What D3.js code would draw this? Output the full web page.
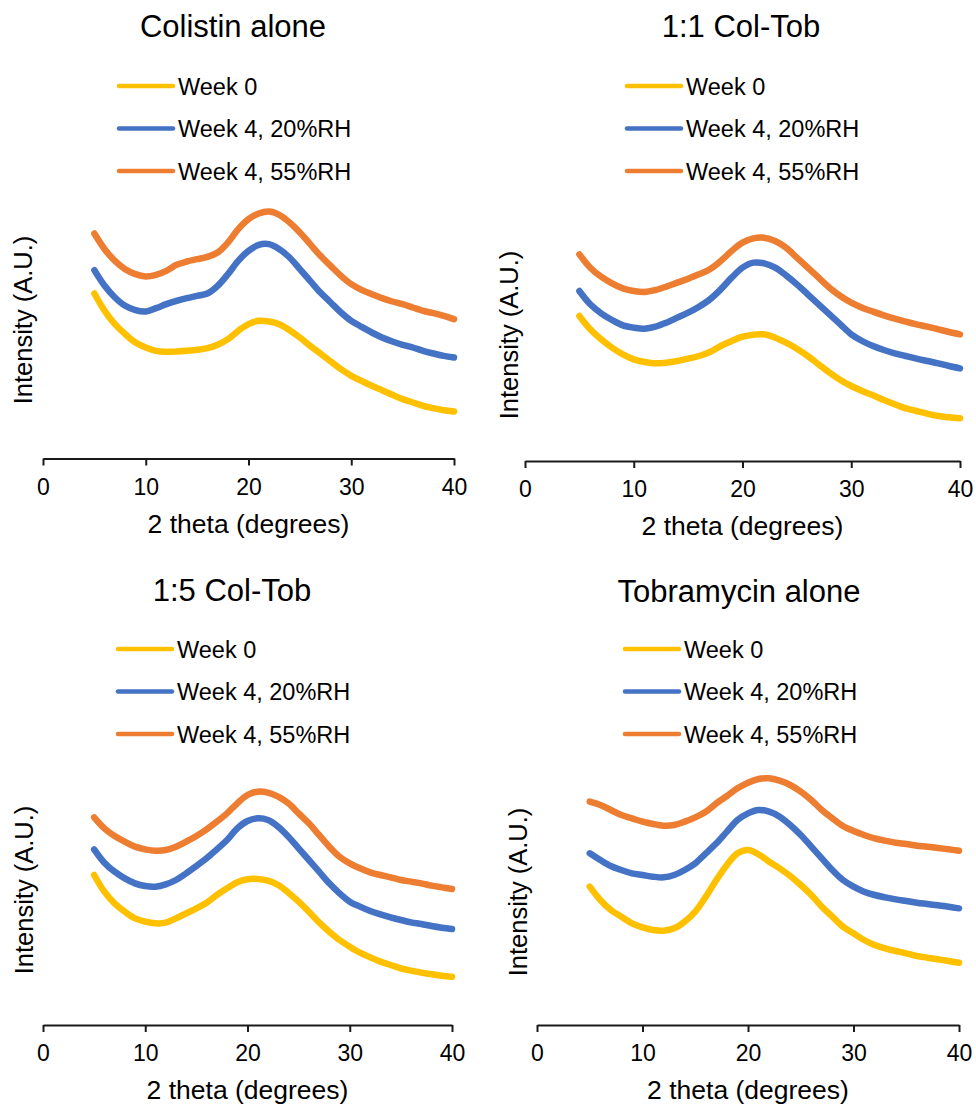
<!DOCTYPE html>
<html>
<head>
<meta charset="utf-8">
<script src="https://cdn.jsdelivr.net/npm/d3@7"></script>
<style>
  body { margin: 0; background: #fff; }
  svg { display: block; font-family: "Liberation Sans", Arial, sans-serif; }
</style>
</head>
<body>
<div id="chart"></div>
<script>
// 2 theta sample positions (degrees)
const twoTheta = [5, 6, 7, 8, 9, 10, 11, 12, 13, 14, 15, 16, 17, 18, 19, 20, 21, 22, 23, 24, 25, 26, 27, 28, 29, 30, 31, 32, 33, 34, 35, 36, 37, 38, 39, 40];
const xTicks = [0, 10, 20, 30, 40];
const seriesNames = ["Week 0", "Week 4, 20%RH", "Week 4, 55%RH"];
const seriesColors = ["#FFC000", "#4472C4", "#ED7D31"];
const panelTitles = ["Colistin alone", "1:1 Col-Tob", "1:5 Col-Tob", "Tobramycin alone"];

// intensity (A.U.)
const colistinWeek0 = [495, 443, 403, 373, 348, 333, 323, 320, 321, 323, 326, 331, 341, 358, 383, 403, 413, 411, 403, 385, 363, 338, 315, 291, 268, 248, 233, 218, 205, 191, 178, 168, 158, 151, 145, 141];
const colistinRH20 = [565, 518, 483, 458, 445, 441, 451, 463, 473, 481, 488, 495, 518, 553, 593, 623, 641, 643, 628, 603, 568, 533, 498, 468, 438, 413, 395, 378, 363, 351, 341, 333, 323, 315, 308, 303];
const colistinRH55 = [675, 628, 593, 568, 553, 546, 551, 563, 581, 591, 598, 605, 618, 648, 688, 718, 735, 741, 731, 708, 678, 643, 608, 578, 548, 523, 506, 493, 481, 471, 463, 453, 443, 436, 428, 418];

const colTob11Week0 = [435, 395, 365, 340, 320, 305, 297, 293, 295, 300, 307, 315, 327, 345, 360, 373, 379, 380, 370, 355, 337, 315, 290, 265, 243, 225, 210, 197, 183, 170, 158, 150, 142, 135, 131, 128];
const colTob11RH20 = [510, 470, 443, 423, 407, 400, 397, 403, 415, 430, 445, 463, 485, 515, 550, 580, 595, 593, 580, 557, 530, 500, 470, 440, 410, 380, 360, 345, 333, 323, 315, 307, 300, 293, 285, 278];
const colTob11RH55 = [620, 580, 553, 533, 518, 510, 507, 513, 523, 535, 547, 560, 575, 600, 630, 655, 668, 670, 660, 640, 610, 580, 550, 520, 495, 475, 460, 448, 437, 427, 418, 410, 403, 395, 387, 380];

const colTob15Week0 = [450, 400, 365, 340, 320, 310, 305, 307, 320, 335, 350, 367, 390, 410, 428, 437, 438, 433, 420, 397, 370, 340, 308, 280, 255, 235, 217, 203, 190, 180, 170, 163, 157, 152, 148, 145];
const colTob15RH20 = [527, 487, 460, 440, 425, 417, 415, 422, 435, 455, 477, 500, 527, 555, 590, 612, 620, 615, 595, 565, 530, 495, 460, 425, 395, 370, 355, 342, 332, 323, 315, 308, 303, 297, 292, 288];
const colTob15RH55 = [623, 590, 567, 550, 535, 527, 523, 525, 535, 550, 567, 587, 610, 635, 665, 690, 700, 697, 685, 665, 635, 605, 570, 535, 505, 485, 470, 458, 450, 443, 435, 430, 425, 418, 413, 408];

const tobramycinWeek0 = [415, 375, 345, 325, 305, 293, 285, 283, 290, 310, 340, 385, 435, 480, 515, 525, 512, 490, 470, 447, 420, 390, 355, 325, 295, 275, 255, 240, 230, 222, 215, 207, 202, 197, 192, 187];
const tobramycinRH20 = [515, 495, 477, 465, 455, 450, 445, 443, 450, 465, 485, 515, 545, 580, 615, 635, 645, 640, 625, 600, 570, 535, 500, 465, 435, 415, 400, 390, 383, 377, 372, 367, 363, 359, 355, 350];
const tobramycinRH55 = [670, 660, 645, 630, 620, 610, 603, 598, 600, 610, 623, 640, 665, 687, 710, 727, 738, 740, 733, 720, 700, 675, 645, 620, 597, 582, 570, 560, 553, 547, 543, 538, 535, 531, 527, 523];

const panelSeries = [
  [colistinWeek0, colistinRH20, colistinRH55],
  [colTob11Week0, colTob11RH20, colTob11RH55],
  [colTob15Week0, colTob15RH20, colTob15RH55],
  [tobramycinWeek0, tobramycinRH20, tobramycinRH55]
];

// layout of each panel on the page
const layout = [
  { x0: 43, x1: 454, axisY: 458.5, titleX: 233, titleY: 37, legX: 119, legY: 86, ylabX: 32, ylabY: 320 },
  { x0: 525, x1: 960, axisY: 461, titleX: 741, titleY: 37, legX: 627, legY: 86, ylabX: 518, ylabY: 335 },
  { x0: 43, x1: 452, axisY: 1025, titleX: 232, titleY: 601, legX: 118, legY: 649, ylabX: 33, ylabY: 890 },
  { x0: 537, x1: 959, axisY: 1025, titleX: 739, titleY: 602, legX: 625, legY: 649, ylabX: 527, ylabY: 892 }
];

const W = 976, H = 1106;
const svg = d3.select("#chart").append("svg")
  .attr("width", W)
  .attr("height", H);

panelTitles.forEach((title, i) => {
  const L = layout[i];
  const g = svg.append("g");

  const x = d3.scaleLinear().domain([0, 40]).range([L.x0, L.x1]);
  const y = d3.scaleLinear().domain([0, 800]).range([L.axisY, L.axisY - 800 / 3]);

  g.append("text")
    .attr("x", L.titleX)
    .attr("y", L.titleY)
    .attr("text-anchor", "middle")
    .style("font-size", "31px")
    .attr("fill", "#000")
    .text(title);

  // legend
  const leg = g.append("g");
  seriesNames.forEach((name, k) => {
    const ly = L.legY + k * 42.5;
    leg.append("line")
      .attr("x1", L.legX).attr("x2", L.legX + 54)
      .attr("y1", ly).attr("y2", ly)
      .attr("stroke", seriesColors[k])
      .attr("stroke-width", 4.5)
      .attr("stroke-linecap", "round");
    leg.append("text")
      .attr("x", L.legX + 59)
      .attr("y", ly + 8.5)
      .style("font-size", "23.5px")
      .attr("fill", "#000")
      .text(name);
  });

  // x axis
  const axis = g.append("g")
    .attr("transform", `translate(0,${L.axisY})`)
    .call(d3.axisBottom(x).tickValues(xTicks).tickSize(7).tickSizeOuter(0));
  axis.select(".domain").attr("stroke", "#1a1a1a").attr("stroke-width", 2);
  axis.selectAll(".tick line").attr("stroke", "#1a1a1a").attr("stroke-width", 2);
  axis.selectAll(".tick text")
    .attr("dy", null)
    .attr("y", 36)
    .attr("fill", "#000")
    .style("font-size", "23px")
    .style("font-family", "'Liberation Sans', Arial, sans-serif");

  g.append("text")
    .attr("x", (L.x0 + L.x1) / 2)
    .attr("y", L.axisY + 74)
    .attr("text-anchor", "middle")
    .style("font-size", "26.5px")
    .attr("fill", "#000")
    .text("2 theta (degrees)");

  g.append("text")
    .attr("transform", `translate(${L.ylabX},${L.ylabY}) rotate(-90)`)
    .attr("text-anchor", "middle")
    .style("font-size", "25.5px")
    .attr("fill", "#000")
    .text("Intensity (A.U.)");

  // traces
  const line = d3.line()
    .x((d, j) => x(twoTheta[j]))
    .y(d => y(d))
    .curve(d3.curveCatmullRom.alpha(0.5));

  panelSeries[i].forEach((vals, k) => {
    g.append("path")
      .datum(vals)
      .attr("d", line)
      .attr("fill", "none")
      .attr("stroke", seriesColors[k])
      .attr("stroke-width", 6.5)
      .attr("stroke-linecap", "round")
      .attr("stroke-linejoin", "round");
  });
});
</script>
</body>
</html>
